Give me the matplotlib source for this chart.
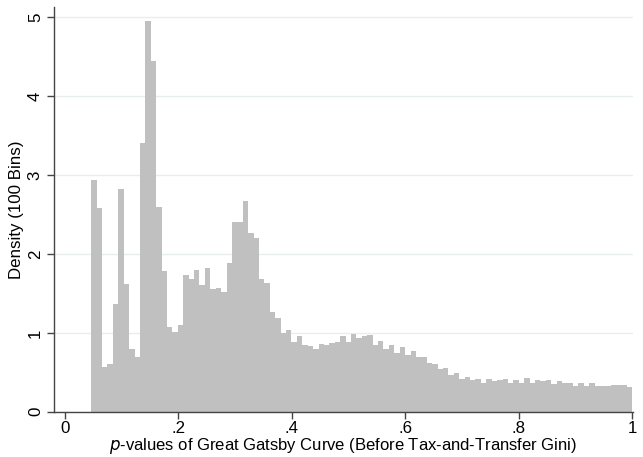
import numpy as np
import matplotlib
matplotlib.use('Agg')
import matplotlib.pyplot as plt

plt.rcParams['font.family'] = ['Liberation Sans', 'DejaVu Sans']
plt.rcParams['font.size'] = 12.2

# histogram range (100 bins)
bin_lo = 0.0468
bin_hi = 1.0

# density per bin, left to right
density = [2.94, 2.58, 0.57, 0.61, 1.36, 2.82, 1.62, 0.79, 0.69, 3.41,
           4.95, 4.44, 2.59, 1.78, 1.07, 1.01, 1.10, 1.73, 1.68, 1.79,
           1.61, 1.82, 1.56, 1.57, 1.52, 1.88, 2.40, 2.41, 2.67, 2.26,
           2.20, 1.68, 1.63, 1.27, 1.19, 1.00, 1.03, 0.89, 0.96, 0.84,
           0.83, 0.80, 0.86, 0.85, 0.87, 0.89, 0.96, 0.89, 0.98, 0.94,
           0.96, 0.97, 0.84, 0.90, 0.79, 0.84, 0.75, 0.82, 0.72, 0.77,
           0.69, 0.69, 0.62, 0.60, 0.54, 0.55, 0.47, 0.49, 0.42, 0.44,
           0.40, 0.42, 0.37, 0.41, 0.385, 0.40, 0.42, 0.36, 0.40, 0.36,
           0.43, 0.37, 0.40, 0.385, 0.40, 0.35, 0.385, 0.36, 0.37, 0.325,
           0.37, 0.33, 0.36, 0.32, 0.325, 0.325, 0.345, 0.34, 0.345, 0.31]

xticks = [0, 0.2, 0.4, 0.6, 0.8, 1.0]
xtick_labels = ['0', '.2', '.4', '.6', '.8', '1']
yticks = [0, 1, 2, 3, 4, 5]

edges = np.linspace(bin_lo, bin_hi, len(density) + 1)

fig = plt.figure(figsize=(6.43, 4.57), dpi=100)
ax = fig.add_axes([0.084, 0.099, 0.900, 0.886])

ax.bar(edges[:-1], density, width=np.diff(edges), align='edge',
       color='#c0c0c0', edgecolor='none', linewidth=0, zorder=2)

ax.set_xlim(-0.0188, 1.0005)
ax.set_ylim(0, 5.13)

ax.set_xticks(xticks)
ax.set_xticklabels(xtick_labels)
ax.set_yticks(yticks)
ax.set_yticklabels([str(v) for v in yticks], rotation=90, va='center')

ax.yaxis.grid(True, color='#e6eef0', linewidth=1.0, zorder=0)
ax.set_axisbelow(True)

for s in ['top', 'right']:
    ax.spines[s].set_visible(False)
for s in ['left', 'bottom']:
    ax.spines[s].set_color('#444444')
    ax.spines[s].set_linewidth(1.0)
ax.tick_params(axis='both', direction='out', length=5, width=1.0,
               color='#444444', labelcolor='black', pad=3)
ax.tick_params(axis='x', pad=2)

ax.set_xlabel('$\\it{p}$-values of Great Gatsby Curve (Before Tax-and-Transfer Gini)',
              labelpad=0, fontsize=12)
ax.set_ylabel('Density (100 Bins)', labelpad=3)

fig.savefig('out.png', dpi=100)
